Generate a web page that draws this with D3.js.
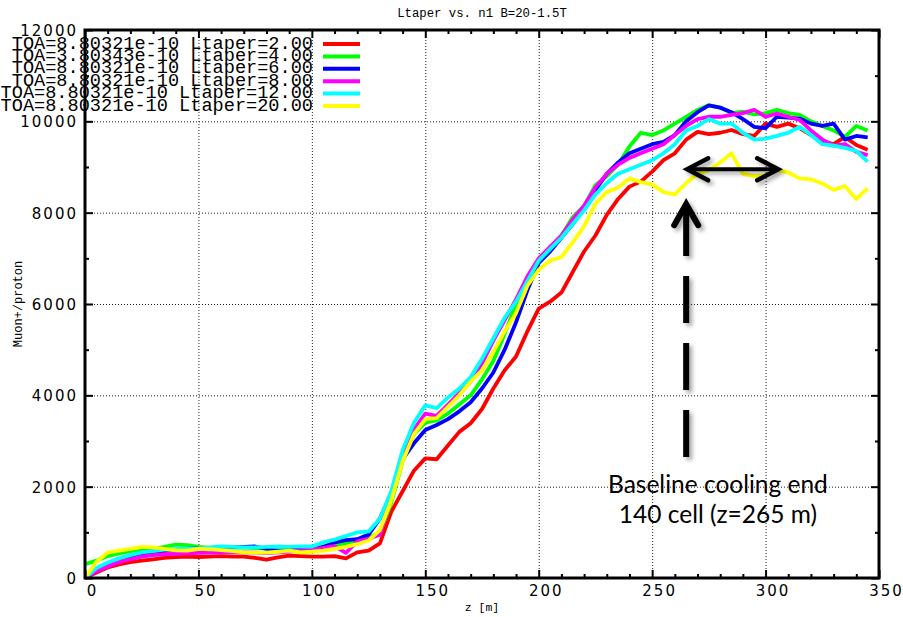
<!DOCTYPE html>
<html>
<head>
<meta charset="utf-8">
<script src="https://cdn.jsdelivr.net/npm/d3@7"></script>
<style>
  body { margin: 0; background: #fff; }
  svg { display: block; }
</style>
</head>
<body>
<svg id="chart" width="903" height="617"></svg>
<script>
// Position along the channel, metres (one sample every 5 m)
const zPositions = d3.range(0, 350, 5);

// Muon+ per proton for each taper length
const muonLtaper2 = [0,120,230,300,350,380,410,440,460,470,
  460,470,480,470,470,440,400,450,490,480,
  470,470,480,430,560,600,760,1450,1900,2350,
  2620,2600,2900,3200,3390,3700,4150,4550,4850,5400,
  5900,6050,6250,6700,7150,7500,7950,8300,8570,8680,
  8900,9150,9300,9600,9770,9720,9750,9810,9720,9680,
  9950,9880,9950,9850,9700,9560,9500,9660,9480,9380];
const muonLtaper4 = [300,380,480,540,590,620,640,680,730,720,
  680,660,670,665,670,655,650,640,640,660,
  670,690,720,760,810,880,1000,1650,2550,3150,
  3400,3450,3600,3800,4000,4350,4750,5350,6000,6500,
  6900,7150,7500,7900,8150,8600,8800,9050,9450,9750,
  9700,9800,9950,10100,10250,10350,10300,10180,10210,10150,
  10180,10250,10180,10140,10000,9900,9800,9660,9900,9800];
const muonLtaper6 = [0,200,300,400,450,520,560,590,620,640,
  650,650,660,670,680,690,640,600,610,630,
  620,680,780,830,850,950,1300,1850,2600,2950,
  3240,3350,3480,3650,3850,4150,4500,5000,5600,6300,
  6900,7150,7450,7750,8100,8500,8850,9100,9300,9400,
  9500,9550,9700,10000,10200,10350,10300,10200,10050,9880,
  9850,10100,10080,10060,9950,9900,9950,9600,9680,9650];
const muonLtaper8 = [0,150,250,350,410,470,500,520,530,540,
  550,555,555,560,560,555,545,560,580,600,
  620,660,700,550,800,860,950,1800,2650,3250,
  3600,3550,3800,4050,4300,4700,5200,5650,6100,6600,
  7000,7250,7500,7850,8150,8550,8850,9050,9200,9300,
  9400,9500,9700,9900,10050,10100,10100,10140,10180,10250,
  10100,10170,10100,10030,9800,9600,9470,9500,9330,9260];
const muonLtaper12 = [0,220,340,430,500,560,590,620,630,645,
  650,670,690,680,670,670,680,690,680,690,
  690,780,840,920,1000,1020,1300,1900,2800,3400,
  3780,3720,3950,4150,4400,4800,5250,5700,6050,6500,
  6950,7200,7450,7750,8050,8400,8650,8850,8950,9050,
  9150,9300,9500,9800,9900,10050,9950,9950,9750,9600,
  9620,9680,9750,9880,9700,9500,9470,9420,9350,9120];
const muonLtaper20 = [0,350,560,600,640,680,670,640,605,600,
  640,630,610,590,560,555,555,575,600,560,
  575,600,640,680,740,820,1050,1700,2550,3150,
  3480,3500,3750,4000,4300,4550,4950,5400,5800,6400,
  6750,6950,7030,7350,7700,8200,8450,8550,8750,8670,
  8620,8450,8400,8650,8850,8930,9100,9300,8850,8800,
  8820,8930,8880,8750,8730,8640,8500,8580,8300,8530];

const seriesLabels = [
  "TOA=8.80321e-10 Ltaper=2.00",
  "TOA=3.80343e-10 Ltaper=4.00",
  "TOA=8.80321e-10 Ltaper=6.00",
  "TOA=8.80321e-10 Ltaper=8.00",
  "TOA=8.80321e-10 Ltaper=12.00",
  "TOA=8.80321e-10 Ltaper=20.00"
];
const seriesColors = ["#ff0000", "#00ff00", "#0000ff", "#ff00ff", "#00ffff", "#ffff00"];
const seriesValues = [muonLtaper2, muonLtaper4, muonLtaper6, muonLtaper8, muonLtaper12, muonLtaper20];

const xMajorTicks = [0, 50, 100, 150, 200, 250, 300, 350];
const yMajorTicks = [0, 2000, 4000, 6000, 8000, 10000, 12000];

// Annotation: end of the baseline cooling channel and the span after it
const coolingEndZ = 265;
const spanEndZ = 306;
const arrowBottomValue = 2650;
const arrowTopValue = 8230;
const spanValue = 8950;
const noteZ = 279;
const noteLines = ["Baseline cooling end", "140 cell (z=265 m)"];

const titleText = "Ltaper vs. n1 B=20-1.5T";
const xTitle = "z [m]";
const yTitle = "Muon+/proton";

// ---- layout ----
const svg = d3.select("#chart");
const L = 85, R = 879, T = 30, B = 578;
const x = d3.scaleLinear().domain([0, 350]).range([L, R]);
const y = d3.scaleLinear().domain([0, 12000]).range([B, T]);

const mono = "'Liberation Mono', 'Courier New', monospace";
const tickFont = "'DejaVu Sans', sans-serif";

// dotted grid
const grid = svg.append("g").attr("stroke", "#222").attr("stroke-width", 1)
  .attr("stroke-dasharray", "1,2");
grid.selectAll("line.gx").data(xMajorTicks.filter(d => d > 0 && d < 350)).join("line")
  .attr("class", "gx")
  .attr("x1", d => x(d) + 0.5).attr("x2", d => x(d) + 0.5)
  .attr("y1", B).attr("y2", T);
grid.selectAll("line.gy").data(yMajorTicks.filter(d => d > 0 && d < 12000)).join("line")
  .attr("class", "gy")
  .attr("x1", L).attr("x2", R)
  .attr("y1", d => y(d) + 0.5).attr("y2", d => y(d) + 0.5);

// series
const line = d3.line().x((d, i) => x(zPositions[i])).y(d => y(d));
svg.append("g").selectAll("path").data(seriesValues).join("path")
  .attr("d", d => line(d))
  .attr("fill", "none")
  .attr("stroke", (d, i) => seriesColors[i])
  .attr("stroke-width", 3.8)
  .attr("stroke-linejoin", "round");

// ticks on all four sides, pointing inward
function styleTicks(g) {
  g.select(".domain").remove();
  g.selectAll(".tick line").attr("stroke", "#000").attr("stroke-width", 2);
}
const xMinor = d3.range(0, 351, 10).filter(d => d % 50 !== 0);
const yMinor = d3.range(1000, 12000, 2000);

svg.append("g").attr("transform", `translate(0,${B})`)
  .call(d3.axisBottom(x).tickValues(xMinor).tickSize(-4).tickFormat(""))
  .call(styleTicks);
svg.append("g").attr("transform", `translate(0,${T})`)
  .call(d3.axisTop(x).tickValues(xMinor).tickSize(-4).tickFormat(""))
  .call(styleTicks);
svg.append("g").attr("transform", `translate(${L},0)`)
  .call(d3.axisLeft(y).tickValues(yMinor).tickSize(-4).tickFormat(""))
  .call(styleTicks);
svg.append("g").attr("transform", `translate(${R},0)`)
  .call(d3.axisRight(y).tickValues(yMinor).tickSize(-4).tickFormat(""))
  .call(styleTicks);

const xAxis = svg.append("g").attr("transform", `translate(0,${B})`)
  .call(d3.axisBottom(x).tickValues(xMajorTicks).tickSize(-8).tickPadding(0).tickFormat(d3.format("d")))
  .call(styleTicks);
xAxis.selectAll(".tick text")
  .attr("y", 18).attr("dy", null).attr("x", 7)
  .attr("fill", "#000").style("font-family", tickFont).style("font-size", "15px")
  .style("letter-spacing", "2px");

svg.append("g").attr("transform", `translate(0,${T})`)
  .call(d3.axisTop(x).tickValues(xMajorTicks).tickSize(-8).tickFormat(""))
  .call(styleTicks);

const yAxis = svg.append("g").attr("transform", `translate(${L},0)`)
  .call(d3.axisLeft(y).tickValues(yMajorTicks).tickSize(-8).tickPadding(0).tickFormat(d3.format("d")))
  .call(styleTicks);
yAxis.selectAll(".tick text")
  .attr("x", -7).attr("dy", "0.36em")
  .attr("fill", "#000").style("font-family", tickFont).style("font-size", "15px")
  .style("letter-spacing", "2px");

svg.append("g").attr("transform", `translate(${R},0)`)
  .call(d3.axisRight(y).tickValues(yMajorTicks).tickSize(-8).tickFormat(""))
  .call(styleTicks);

// frame
svg.append("rect")
  .attr("x", L).attr("y", T).attr("width", R - L).attr("height", B - T)
  .attr("fill", "none").attr("stroke", "#000").attr("stroke-width", 3);

// titles
svg.append("text").attr("x", (L + R) / 2).attr("y", 17)
  .attr("text-anchor", "middle").style("font-family", mono).style("font-size", "12.3px")
  .text(titleText);
svg.append("text").attr("x", (L + R) / 2).attr("y", 611)
  .attr("text-anchor", "middle").style("font-family", mono).style("font-size", "11.5px")
  .text(xTitle);
svg.append("text").attr("transform", `translate(22,${(T + B) / 2}) rotate(-90)`)
  .attr("text-anchor", "middle").style("font-family", mono).style("font-size", "12px")
  .text(yTitle);

// legend (tightly stacked rows, text right-aligned against the sample lines)
const legend = svg.append("g");
const legendRows = seriesLabels.map((s, i) => ({ label: s, color: seriesColors[i], i }));
legend.selectAll("text").data(legendRows).join("text")
  .attr("x", 313).attr("y", d => 48.5 + d.i * 12.4)
  .attr("text-anchor", "end")
  .style("font-family", mono).style("font-size", "18.6px")
  .text(d => d.label);
legend.selectAll("line").data(legendRows).join("line")
  .attr("x1", 323).attr("x2", 360)
  .attr("y1", d => 44 + d.i * 12.4).attr("y2", d => 44 + d.i * 12.4)
  .attr("stroke", d => d.color).attr("stroke-width", 4);

// annotation arrows with a soft shadow
const defs = svg.append("defs");
const f = defs.append("filter").attr("id", "shadow")
  .attr("x", "-50%").attr("y", "-50%").attr("width", "200%").attr("height", "200%");
f.append("feDropShadow").attr("dx", 3).attr("dy", 3).attr("stdDeviation", 2.2)
  .attr("flood-color", "#000").attr("flood-opacity", 0.35);

const ann = svg.append("g").attr("filter", "url(#shadow)")
  .attr("stroke", "#000").attr("fill", "none");

const ax = x(coolingEndZ);
const yTip = y(arrowTopValue), yBottom = y(arrowBottomValue);
ann.append("line")
  .attr("x1", ax).attr("x2", ax).attr("y1", yBottom).attr("y2", yTip + 6)
  .attr("stroke-width", 6).attr("stroke-dasharray", "47,20");
ann.append("path")
  .attr("d", `M${ax - 12},${yTip + 23} L${ax},${yTip + 2} L${ax + 12},${yTip + 23}`)
  .attr("stroke-width", 6).attr("stroke-linejoin", "miter").attr("stroke-linecap", "round");

const hx1 = x(coolingEndZ), hx2 = x(spanEndZ), hy = y(spanValue);
ann.append("line")
  .attr("x1", hx1 + 2).attr("x2", hx2 - 2).attr("y1", hy).attr("y2", hy)
  .attr("stroke-width", 4);
ann.append("path")
  .attr("d", `M${hx1 + 22},${hy - 11} L${hx1 + 1},${hy} L${hx1 + 22},${hy + 11}`)
  .attr("stroke-width", 4.5).attr("stroke-linecap", "round");
ann.append("path")
  .attr("d", `M${hx2 - 22},${hy - 11} L${hx2 - 1},${hy} L${hx2 - 22},${hy + 11}`)
  .attr("stroke-width", 4.5).attr("stroke-linecap", "round");

svg.append("g").selectAll("text").data(noteLines).join("text")
  .attr("x", x(noteZ)).attr("y", (d, i) => 493 + i * 30)
  .attr("text-anchor", "middle")
  .style("font-family", "Lato, 'Open Sans', sans-serif").style("font-size", "24.5px")
  .attr("fill", "#000")
  .text(d => d);
</script>
</body>
</html>
